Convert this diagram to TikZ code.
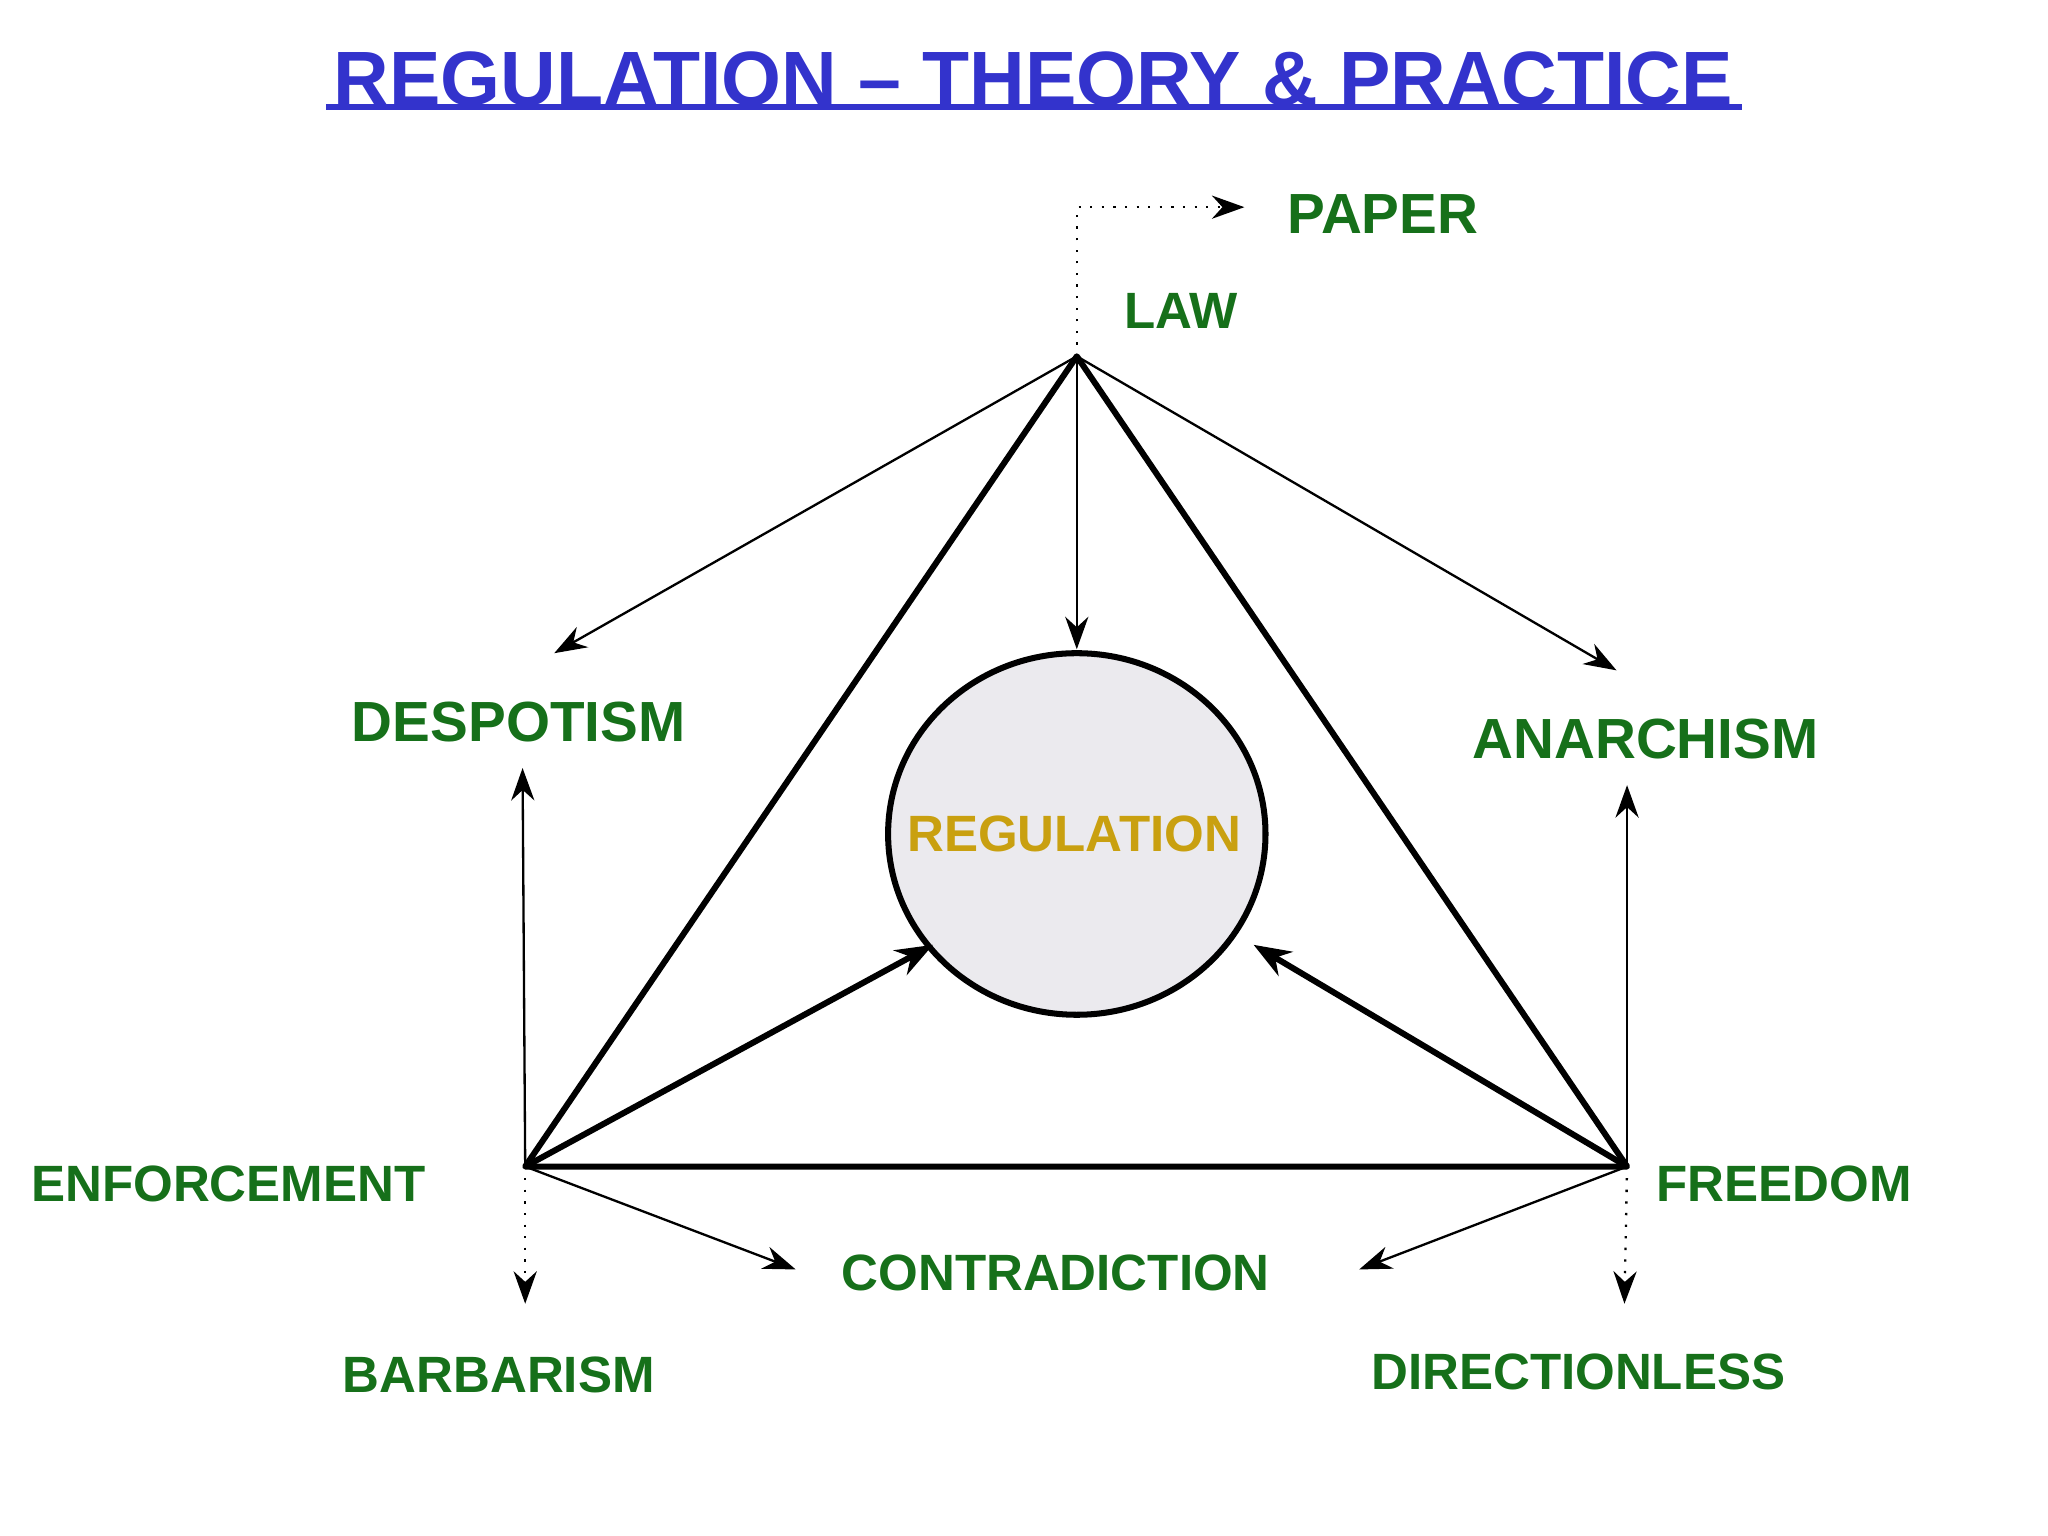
\documentclass[tikz,border=0pt]{standalone}
\usepackage{fontspec}
\setmainfont{Liberation Sans}
\usetikzlibrary{arrows.meta}
\definecolor{lblgreen}{HTML}{16701A}
\definecolor{ttlblue}{HTML}{3333CC}
\definecolor{gold}{HTML}{C9A010}
\definecolor{circfill}{HTML}{EBEAEE}
\begin{document}
\begin{tikzpicture}[x=0.01cm,y=-0.01cm,
  lbl/.style={font=\bfseries\fontsize{11}{13}\selectfont,text=lblgreen},
  big/.style={font=\bfseries\fontsize{12.2}{14}\selectfont,text=lblgreen},
  thin/.style={-{Stealth[length=7pt,width=5pt]},line width=0.5pt},
  dot/.style={thin,dotted},
  thick/.style={line width=1.3pt},
  thicka/.style={-{Stealth[length=8pt,width=6pt]},line width=1.3pt}]
\useasboundingbox (0,0) rectangle (1552,1164);
\node[font=\bfseries\fontsize{16.6}{19}\selectfont,text=ttlblue] (title) at (783,60) {REGULATION – THEORY \& PRACTICE};
\draw[ttlblue,line width=1.2pt] (247,81) -- (1320,81);
\coordinate (L) at (816,270);
\coordinate (E) at (398,884);
\coordinate (F) at (1233,884);
\draw[thick,line join=round] (L) -- (E) -- (F) -- cycle;
\draw[thick,fill=circfill] (816,632) ellipse [x radius=143, y radius=137];
\node[font=\bfseries\fontsize{11}{13}\selectfont,text=gold] (reg) at (814,632) {REGULATION};
\coordinate (p1) at (816,157);
\coordinate (p2) at (943,157);
\draw[dot] (L) -- (p1) -- (p2);
\coordinate (d) at (420,495); \coordinate (a) at (1225,508); \coordinate (c) at (816,492);
\draw[thin] (L) -- (d); \draw[thin] (L) -- (a); \draw[thin] (L) -- (c);
\coordinate (eu) at (396,582); \coordinate (ed) at (398,988); \coordinate (ec) at (603,962);
\coordinate (fu) at (1233,595); \coordinate (fd) at (1231,988); \coordinate (fc) at (1030,962);
\draw[thin] (E) -- (eu); \draw[dot] (E) -- (ed); \draw[thin] (E) -- (ec);
\draw[thin] (F) -- (fu); \draw[dot] (F) -- (fd); \draw[thin] (F) -- (fc);
\coordinate (ce) at (707,716); \coordinate (cf) at (950,716);
\draw[thicka] (E) -- (ce); \draw[thicka] (F) -- (cf);
\node[big] (paper) at (1048,162) {PAPER};
\node[lbl] (law) at (895,236) {LAW};
\node[big] (desp) at (393,547) {DESPOTISM};
\node[big] (anar) at (1247,560) {ANARCHISM};
\node[lbl] (enf) at (173,897) {ENFORCEMENT};
\node[lbl] (free) at (1352,897) {FREEDOM};
\node[lbl] (contra) at (800,965) {CONTRADICTION};
\node[lbl] (barb) at (378,1042) {BARBARISM};
\node[lbl] (dirl) at (1196,1040) {DIRECTIONLESS};
\end{tikzpicture}
\end{document}
